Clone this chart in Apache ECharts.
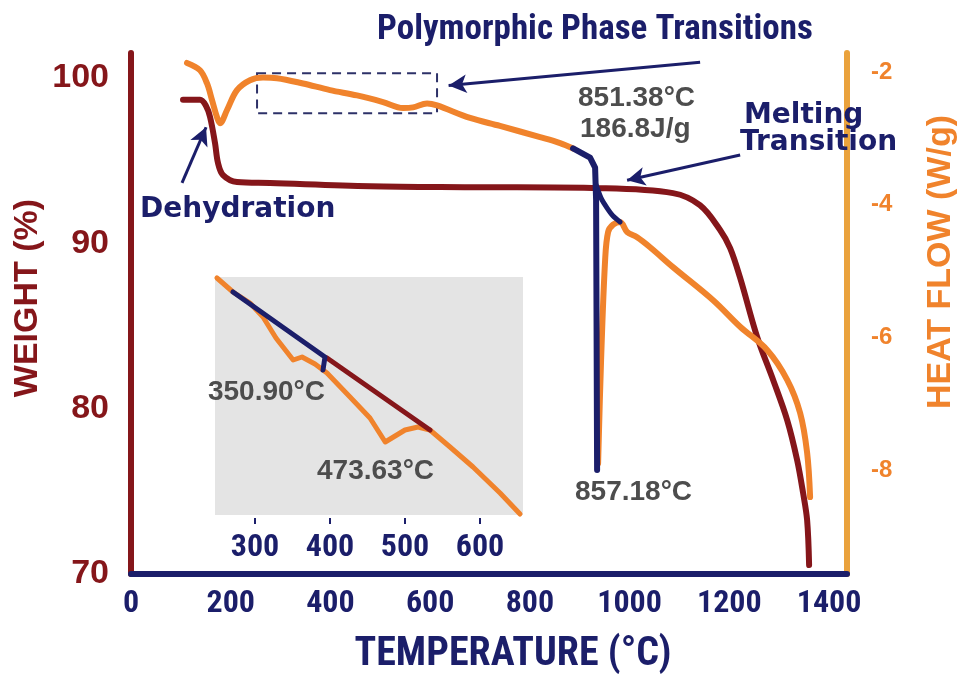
<!DOCTYPE html>
<html>
<head>
<meta charset="utf-8">
<title>TGA / DSC – Temperature Scan</title>
<script src="https://cdn.jsdelivr.net/npm/echarts@6/dist/echarts.min.js"></script>
<style>
  html, body { margin: 0; padding: 0; background: #ffffff; }
  #chart { width: 964px; height: 675px; }
</style>
</head>
<body>
<div id="chart"></div>
<script>
// ---- Axis ticks ----
const temperatureTicks = [0, 200, 400, 600, 800, 1000, 1200, 1400];
const weightTicks = [70, 80, 90, 100];
const heatFlowTicks = [-8, -6, -4, -2];
const insetTicks = [300, 400, 500, 600];

// ---- Weight loss curve (TGA), °C vs % ----
const weightTemp = [104.3, 138.4, 150.5, 158.5, 168.5, 174.5, 184.6, 212.6, 278.8, 480, 680, 940.8,
  1087, 1141, 1181.5, 1201.6, 1221.7, 1255.8, 1287.9, 1316, 1336, 1348, 1356, 1360];
const weightPct = [98.67, 98.67, 98.3, 97.64, 96.06, 94.85, 94.12, 93.7, 93.64, 93.45, 93.39, 93.33,
  93.03, 92.3, 90.8, 89.7, 87.9, 84.33, 81.73, 79.31, 76.89, 74.89, 73.26, 70.54];

// ---- Heat flow curve (DSC), °C vs W/g, up to the melting onset ----
const heatTemp = [112.3, 138.4, 152.5, 162.5, 172.5, 178.5, 192.6, 212.6, 238.7, 264.8, 292.9, 345,
  399.2, 453.4, 505.5, 545.6, 565.7, 593.8, 613.8, 680, 740, 820.5, 860.6, 886.6];
const heatFlow = [-1.86, -1.97, -2.17, -2.42, -2.68, -2.77, -2.57, -2.27, -2.12, -2.08, -2.09, -2.17,
  -2.27, -2.35, -2.45, -2.54, -2.53, -2.47, -2.50, -2.69, -2.81, -2.98, -3.07, -3.15];

// ---- Melting endotherm (integrated part) ----
const meltTemp = [886.6, 920.7, 930.8, 932.8, 934.8];
const meltFlow = [-3.15, -3.29, -3.44, -3.93, -8.0];
// integration baseline of the endotherm
const meltBaseTemp = [932.8, 942.8, 954.9, 966.9, 981];
const meltBaseFlow = [-3.70, -3.90, -4.05, -4.17, -4.26];

// ---- Heat flow after the melting peak ----
const recoveryTemp = [936.8, 942.8, 950.9, 956.9, 966.9, 981, 995, 1015, 1041, 1087, 1167.5, 1221.7,
  1275.8, 1316, 1342, 1356, 1362];
const recoveryFlow = [-7.9, -6.34, -4.83, -4.41, -4.30, -4.26, -4.41, -4.49, -4.64, -4.94, -5.44, -5.84,
  -6.19, -6.64, -7.14, -7.74, -8.41];

// ---- Inset: expanded view of the polymorphic transitions (relative signal) ----
const insetTemp = [249.3, 270.7, 293.3, 310.7, 328, 350.9, 362.7, 380, 396, 426.7, 453.3, 473.63,
  500, 517.3, 533.3, 560, 590.7, 626.7, 653.3];
const insetSignal = [23.7, 22.3, 21.2, 19.8, 17.7, 15.5, 15.8, 15.1, 14.2, 11.8, 9.7, 7.3,
  8.5, 8.8, 8.5, 6.8, 4.8, 2.2, 0.1];
const insetFirstTemp = [270.7, 393.3, 390.7];
const insetFirstSignal = [22.3, 15.8, 14.5];
const insetSecondTemp = [396, 533.3];
const insetSecondSignal = [15.7, 8.5];

// ---- Annotation anchors (°C, W/g) ----
const polymorphBox = [[252.8, -2.015], [613.8, -2.62]];
const polymorphArrow = [[1141.4, -1.85], [637, -2.2]];
const dehydrationArrow = [[102.3, -3.67], [150.5, -2.83]];
const meltingArrow = [[1221.7, -3.25], [995, -3.63]];

const NAVY = '#1b1e6a';
const DARKRED = '#85161a';
const ORANGE = '#f0832c';
const GOLD = '#eaa23c';
const GREY = '#4d4d4d';
const NARROW = '"Liberation Sans Narrow", "Roboto Condensed", "Liberation Sans", Arial, sans-serif';
const SANS = '"Liberation Sans", Arial, sans-serif';
const WIDE = '"DejaVu Sans", Verdana, sans-serif';

const zip = (xs, ys) => xs.map((x, i) => [x, ys[i]]);
const plain = (v) => String(v);

const arrowLine = (pts) => [
  { coord: pts[0], symbol: 'none' },
  { coord: pts[1], symbol: 'arrow' }
];

const chart = echarts.init(document.getElementById('chart'), null, { renderer: 'canvas' });

const text = (t, x, y, opts) => Object.assign({
  type: 'text', x: x, y: y, z: 100,
  style: Object.assign({ text: t, fill: NAVY, fontWeight: 'bold', align: 'left', verticalAlign: 'middle' }, opts)
});

const curve = { showSymbol: false, smooth: 0.35 };

chart.setOption({
  animation: false,
  backgroundColor: '#ffffff',
  grid: [
    { left: 131, top: 53, width: 716, height: 521, show: false },
    { left: 215, top: 277, width: 308, height: 238, show: true, backgroundColor: '#e4e4e4', borderWidth: 0 }
  ],
  xAxis: [
    {
      type: 'value', gridIndex: 0, min: 0, max: 1436,
      axisLine: { onZero: false, lineStyle: { color: NAVY, width: 6 } },
      axisTick: { show: false },
      splitLine: { show: false },
      axisLabel: {
        customValues: temperatureTicks, formatter: plain, color: NAVY, fontSize: 32, fontWeight: 'bold',
        fontFamily: NARROW, margin: 14
      }
    },
    {
      type: 'value', gridIndex: 1, min: 246.7, max: 657.3, offset: 3,
      axisLine: { show: false, onZero: false },
      axisTick: { show: true, customValues: insetTicks, length: 6, lineStyle: { color: NAVY, width: 2 } },
      splitLine: { show: false },
      axisLabel: {
        customValues: insetTicks, formatter: plain, color: NAVY, fontSize: 32, fontWeight: 'bold',
        fontFamily: NARROW, margin: 14
      }
    }
  ],
  yAxis: [
    {
      type: 'value', gridIndex: 0, position: 'left', min: 70, max: 101.5,
      axisLine: { show: true, lineStyle: { color: DARKRED, width: 6 } },
      axisTick: { show: false },
      splitLine: { show: false },
      axisLabel: {
        customValues: weightTicks, formatter: plain, color: DARKRED, fontSize: 34, fontWeight: 'bold',
        fontFamily: SANS, margin: 22
      }
    },
    {
      type: 'value', gridIndex: 0, position: 'right', min: -9.57, max: -1.71,
      axisLine: { show: true, lineStyle: { color: GOLD, width: 6 } },
      axisTick: { show: false },
      splitLine: { show: false },
      axisLabel: {
        customValues: heatFlowTicks, formatter: plain, color: ORANGE, fontSize: 24, fontWeight: 'bold',
        fontFamily: SANS, margin: 24
      }
    },
    { type: 'value', gridIndex: 1, min: 0, max: 23.8, show: false }
  ],
  series: [
    Object.assign({
      name: 'Weight', type: 'line', xAxisIndex: 0, yAxisIndex: 0,
      data: zip(weightTemp, weightPct),
      lineStyle: { color: DARKRED, width: 6, cap: 'round', join: 'round' }, z: 3
    }, curve),
    Object.assign({
      name: 'Heat Flow', type: 'line', xAxisIndex: 0, yAxisIndex: 1,
      data: zip(heatTemp, heatFlow),
      lineStyle: { color: ORANGE, width: 6, cap: 'round', join: 'round' }, z: 4,
      markArea: {
        silent: true,
        itemStyle: { color: 'rgba(0,0,0,0)', borderColor: '#2d3168', borderWidth: 2, borderType: [9, 6] },
        data: [[{ coord: polymorphBox[0] }, { coord: polymorphBox[1] }]]
      },
      markLine: {
        silent: true, symbolSize: [14, 18],
        lineStyle: { color: NAVY, width: 3, type: 'solid' },
        label: { show: false },
        data: [arrowLine(polymorphArrow), arrowLine(dehydrationArrow), arrowLine(meltingArrow)]
      }
    }, curve),
    Object.assign({
      name: 'Heat Flow (after melt)', type: 'line', xAxisIndex: 0, yAxisIndex: 1,
      data: zip(recoveryTemp, recoveryFlow),
      lineStyle: { color: ORANGE, width: 6, cap: 'round', join: 'round' }, z: 4
    }, curve),
    {
      name: 'Melting baseline', type: 'line', xAxisIndex: 0, yAxisIndex: 1,
      data: zip(meltBaseTemp, meltBaseFlow), showSymbol: false, smooth: 0.2,
      lineStyle: { color: NAVY, width: 5, cap: 'round', join: 'round' }, z: 5
    },
    {
      name: 'Melting endotherm', type: 'line', xAxisIndex: 0, yAxisIndex: 1,
      data: zip(meltTemp, meltFlow), showSymbol: false, smooth: false,
      lineStyle: { color: NAVY, width: 6, cap: 'round', join: 'round' }, z: 5
    },
    {
      name: 'Inset heat flow', type: 'line', xAxisIndex: 1, yAxisIndex: 2,
      data: zip(insetTemp, insetSignal), showSymbol: false, smooth: false,
      lineStyle: { color: ORANGE, width: 5, cap: 'round', join: 'round' }, z: 3
    },
    {
      name: 'Inset 473 °C', type: 'line', xAxisIndex: 1, yAxisIndex: 2,
      data: zip(insetSecondTemp, insetSecondSignal), showSymbol: false,
      lineStyle: { color: DARKRED, width: 5, cap: 'round' }, z: 4
    },
    {
      name: 'Inset 351 °C', type: 'line', xAxisIndex: 1, yAxisIndex: 2,
      data: zip(insetFirstTemp, insetFirstSignal), showSymbol: false,
      lineStyle: { color: NAVY, width: 5, cap: 'round', join: 'round' }, z: 5
    }
  ],
  graphic: [
    text('Polymorphic Phase Transitions', 595, 30, { align: 'center', fontSize: 35, fontFamily: NARROW }),
    text('851.38°C', 578, 98, { fill: GREY, fontSize: 28, fontFamily: SANS }),
    text('186.8J/g', 580, 129, { fill: GREY, fontSize: 28, fontFamily: SANS }),
    text('Melting', 744, 116, { fontSize: 28, fontFamily: WIDE }),
    text('Transition', 740, 143, { fontSize: 28, fontFamily: WIDE }),
    text('Dehydration', 140, 210, { fontSize: 28, fontFamily: WIDE }),
    text('350.90°C', 325, 392, { fill: GREY, fontSize: 28, fontFamily: SANS, align: 'right' }),
    text('473.63°C', 317, 471, { fill: GREY, fontSize: 28, fontFamily: SANS }),
    text('857.18°C', 575, 492, { fill: GREY, fontSize: 28, fontFamily: SANS }),
    Object.assign(text('WEIGHT (%)', 28, 298, { fill: DARKRED, align: 'center', fontSize: 34, fontFamily: SANS }), { rotation: Math.PI / 2 }),
    Object.assign(text('HEAT FLOW (W/g)', 941, 262, { fill: ORANGE, align: 'center', fontSize: 34, fontFamily: SANS }), { rotation: Math.PI / 2 }),
    text('TEMPERATURE (°C)', 513, 655, { align: 'center', fontSize: 40, fontFamily: NARROW })
  ]
});
</script>
</body>
</html>
